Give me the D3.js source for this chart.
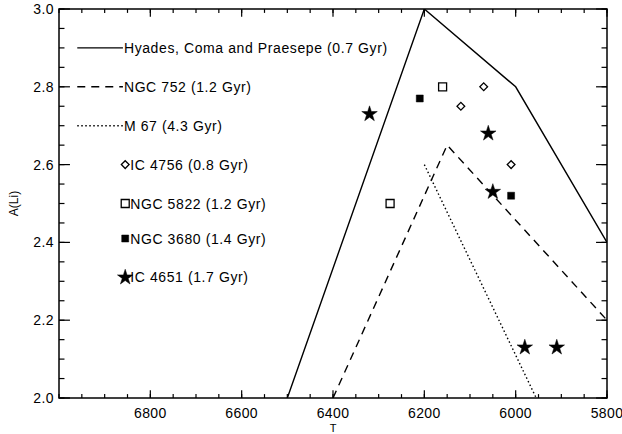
<!DOCTYPE html>
<html lang="en">
  <head>
    <meta charset="UTF-8" />
    <title>A(Li) vs T</title>
    <script src="https://cdn.jsdelivr.net/npm/d3@7"></script>
    <style>
      body {
        margin: 0;
        padding: 0;
        background: #fff;
      }
      text {
        font-family: 'Liberation Sans', Arial, sans-serif;
        fill: #000;
      }
    </style>
  </head>

  <body>
    <svg width="622" height="434"></svg>

    <script>
      // model curves
      var hyadesT = [6500, 6200, 6000, 5800]
      var hyadesA = [2.0, 3.0, 2.8, 2.4]
      var ngc752T = [6400, 6150, 5800]
      var ngc752A = [2.0, 2.65, 2.2]
      var m67T = [6200, 5955]
      var m67A = [2.6, 2.0]

      // cluster stars
      var ic4756T = [6070, 6120, 6010]
      var ic4756A = [2.8, 2.75, 2.6]
      var ngc5822T = [6160, 6275]
      var ngc5822A = [2.8, 2.5]
      var ngc3680T = [6210, 6010]
      var ngc3680A = [2.77, 2.52]
      var ic4651T = [6320, 6060, 6050, 5980, 5910]
      var ic4651A = [2.73, 2.68, 2.53, 2.13, 2.13]

      var xTicks = [6800, 6600, 6400, 6200, 6000, 5800]
      var yTicks = [2.0, 2.2, 2.4, 2.6, 2.8, 3.0]

      var legendLabels = [
        'Hyades, Coma and Praesepe (0.7 Gyr)',
        'NGC 752 (1.2 Gyr)',
        'M 67 (4.3 Gyr)',
        'IC 4756 (0.8 Gyr)',
        'NGC 5822 (1.2 Gyr)',
        'NGC 3680 (1.4 Gyr)',
        'IC 4651 (1.7 Gyr)',
      ]
      var legendA = [2.9, 2.8, 2.7, 2.6, 2.5, 2.41, 2.31]

      var margin = { top: 9, right: 15, bottom: 36, left: 59 }
      var svg = d3.select('svg')
      var width = +svg.attr('width') - margin.left - margin.right
      var height = +svg.attr('height') - margin.top - margin.bottom
      var g = svg
        .append('g')
        .attr('transform', `translate(${margin.left}, ${margin.top})`)

      var x = d3.scaleLinear().domain([7000, 5800]).range([0, width])
      var y = d3.scaleLinear().domain([2.0, 3.0]).range([height, 0])

      var xLen = 0.02 * height
      var yLen = 0.02 * width
      var xMinor = d3.range(7000, 5799, -50)
      var yMinor = d3.range(0, 21).map((i) => 2.0 + i * 0.05)

      // ticks, pointing inward on all four sides
      function ticks(sel, vals, isX, len, top) {
        sel
          .selectAll(null)
          .data(vals)
          .enter()
          .append('line')
          .attr('x1', (d) => (isX ? x(d) : top ? width : 0))
          .attr('x2', (d) => (isX ? x(d) : top ? width - len : len))
          .attr('y1', (d) => (isX ? (top ? 0 : height) : y(d)))
          .attr('y2', (d) => (isX ? (top ? len : height - len) : y(d)))
          .attr('stroke', '#000')
          .attr('stroke-width', 1.2)
      }
      var tg = g.append('g')
      ticks(tg, xTicks, true, xLen, false)
      ticks(tg, xTicks, true, xLen, true)
      ticks(tg, xMinor, true, xLen / 2, false)
      ticks(tg, xMinor, true, xLen / 2, true)
      ticks(tg, yTicks, false, yLen, false)
      ticks(tg, yTicks, false, yLen, true)
      ticks(tg, yMinor, false, yLen / 2, false)
      ticks(tg, yMinor, false, yLen / 2, true)

      g.append('rect')
        .attr('width', width)
        .attr('height', height)
        .attr('fill', 'none')
        .attr('stroke', '#000')
        .attr('stroke-width', 1.5)

      g.selectAll('.xl')
        .data(xTicks)
        .enter()
        .append('text')
        .attr('x', (d) => x(d))
        .attr('y', height + 20)
        .attr('text-anchor', 'middle')
        .attr('font-size', 14)
        .attr('letter-spacing', 0.4)
        .text((d) => d)

      g.selectAll('.yl')
        .data(yTicks)
        .enter()
        .append('text')
        .attr('x', -5)
        .attr('y', (d) => y(d) + 5)
        .attr('text-anchor', 'end')
        .attr('font-size', 14)
        .attr('letter-spacing', 0.4)
        .text((d) => d.toFixed(1))

      g.append('text')
        .attr('x', width / 2)
        .attr('y', height + 34)
        .attr('text-anchor', 'middle')
        .attr('font-size', 11)
        .text('T')

      g.append('text')
        .attr('transform', `translate(-41, ${height / 2}) rotate(-90)`)
        .attr('text-anchor', 'middle')
        .attr('font-size', 12)
        .text('A(Li)')

      // curves
      var line = d3
        .line()
        .x((d) => x(d[0]))
        .y((d) => y(d[1]))
      var curves = [
        { T: hyadesT, A: hyadesA, dash: null },
        { T: ngc752T, A: ngc752A, dash: '8,6' },
        { T: m67T, A: m67A, dash: '1.5,2.5' },
      ]
      g.append('clipPath')
        .attr('id', 'clip')
        .append('rect')
        .attr('width', width)
        .attr('height', height)
      curves.forEach(function (c) {
        g.append('path')
          .attr('clip-path', 'url(#clip)')
          .attr('d', line(d3.zip(c.T, c.A)))
          .attr('fill', 'none')
          .attr('stroke', '#000')
          .attr('stroke-width', 1.4)
          .attr('stroke-dasharray', c.dash)
      })

      // symbols
      var groups = [
        { T: ic4756T, A: ic4756A, type: d3.symbolSquare, size: 30, rot: 45, fill: 'none' },
        { T: ngc5822T, A: ngc5822A, type: d3.symbolSquare, size: 64, rot: 0, fill: 'none' },
        { T: ngc3680T, A: ngc3680A, type: d3.symbolSquare, size: 49, rot: 0, fill: '#000' },
        { T: ic4651T, A: ic4651A, type: d3.symbolStar, size: 75, rot: 0, fill: '#000' },
      ]
      function drawSym(grp, px, py) {
        g.append('path')
          .attr('d', d3.symbol(grp.type, grp.size)())
          .attr('transform', `translate(${px}, ${py}) rotate(${grp.rot})`)
          .attr('fill', grp.fill)
          .attr('stroke', '#000')
          .attr('stroke-width', grp.fill === 'none' ? 1.3 : 0.5)
      }
      groups.forEach(function (grp) {
        grp.T.forEach(function (t, i) {
          drawSym(grp, x(t), y(grp.A[i]))
        })
      })

      // legend
      var lx0 = x(6960)
      var lx1 = x(6860)
      legendLabels.forEach(function (lab, i) {
        var ly = y(legendA[i])
        if (i < 3) {
          g.append('line')
            .attr('x1', lx0)
            .attr('x2', lx1)
            .attr('y1', ly)
            .attr('y2', ly)
            .attr('stroke', '#000')
            .attr('stroke-width', 1.4)
            .attr('stroke-dasharray', curves[i].dash)
          g.append('text')
            .attr('x', lx1 + 1)
            .attr('y', ly + 5)
            .attr('font-size', 14)
            .attr('letter-spacing', 0.6)
            .text(lab)
        } else {
          var sx = x(6855)
          drawSym(groups[i - 3], sx, ly)
          g.append('text')
            .attr('x', sx + 5)
            .attr('y', ly + 5)
            .attr('font-size', 14)
            .attr('letter-spacing', 0.6)
            .text(lab)
        }
      })
    </script>
  </body>
</html>
